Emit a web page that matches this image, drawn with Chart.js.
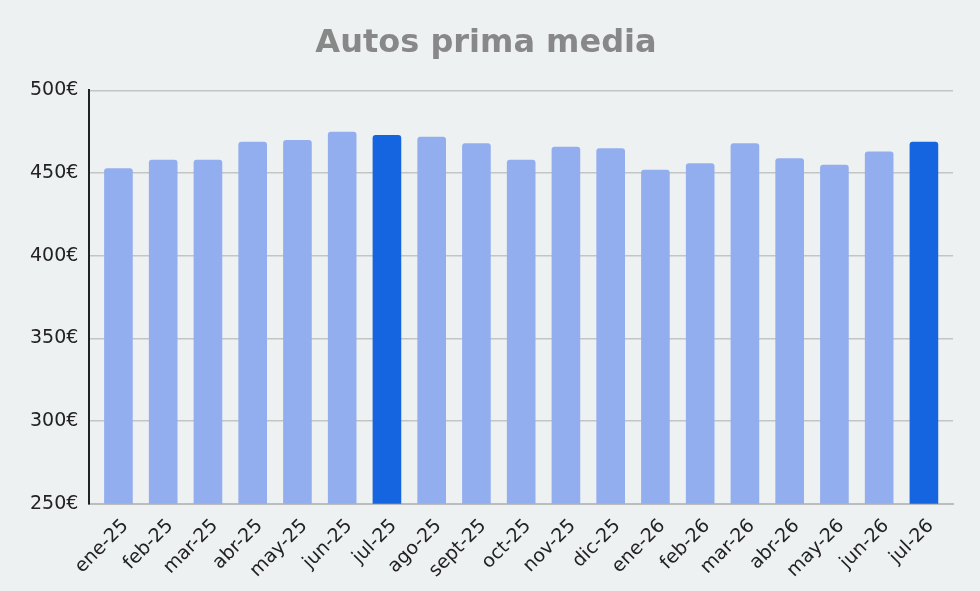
<!DOCTYPE html>
<html>
<head>
<meta charset="utf-8">
<script src="https://cdn.jsdelivr.net/npm/chart.js@4/dist/chart.umd.min.js"></script>
<style>
html,body{margin:0;padding:0;background:#eef1f2;}
#wrap{width:980px;height:591px;}
</style>
</head>
<body>
<div id="wrap"><canvas id="c"></canvas></div>
<script>
const categories = ["ene-25","feb-25","mar-25","abr-25","may-25","jun-25","jul-25","ago-25","sept-25","oct-25","nov-25","dic-25","ene-26","feb-26","mar-26","abr-26","may-26","jun-26","jul-26"];
const values = [453,458,458,469,470,475,473,472,468,458,466,465,452,456,468,459,455,463,469];
const highlighted = ["jul-25","jul-26"];
const yTicks = [250,300,350,400,450,500];

const light = "#93aeee";
const dark = "#1565e0";
// extra space (in category units) between the axis ends and the first/last bar centre
const edgeGap = 0.65;

new Chart(document.getElementById("c"), {
  type: "bar",
  data: {
    labels: categories,
    datasets: [{
      data: values,
      backgroundColor: categories.map(c => highlighted.includes(c) ? dark : light),
      borderRadius: {topLeft: 3, topRight: 3},
      borderSkipped: "bottom",
      barPercentage: 0.8,
      categoryPercentage: 0.8
    }]
  },
  options: {
    responsive: true,
    maintainAspectRatio: false,
    animation: false,
    layout: {padding: {left: 19, right: 27, top: 16, bottom: -2}},
    plugins: {
      legend: {display: false},
      tooltip: {enabled: false},
      title: {
        display: true,
        text: "Autos prima media",
        color: "#888888",
        font: {family: "DejaVu Sans", size: 32, weight: "bold"},
        padding: {top: 8, bottom: 28}
      }
    },
    scales: {
      x: {
        offset: false,
        afterBuildTicks: (axis) => {
          axis._startValue = -edgeGap;
          axis._valueRange = (categories.length - 1) + 2 * edgeGap;
        },
        grid: {display: false, drawTicks: false},
        border: {display: true, color: "#bdbdbd", width: 2},
        ticks: {
          color: "#222222",
          font: {family: "DejaVu Sans", size: 19},
          maxRotation: 45, minRotation: 45,
          padding: 11,
          labelOffset: 7,
          autoSkip: false
        }
      },
      y: {
        min: 250, max: 500,
        afterBuildTicks: (axis) => { axis.ticks = yTicks.map(v => ({value: v})); },
        grid: {color: "#c4c4c4", lineWidth: 1.5, drawTicks: false},
        border: {display: true, color: "#222222", width: 2},
        ticks: {
          color: "#222222",
          font: {family: "DejaVu Sans", size: 19},
          padding: 11,
          callback: (v) => v + "€"
        }
      }
    }
  }
});
</script>
</body>
</html>
